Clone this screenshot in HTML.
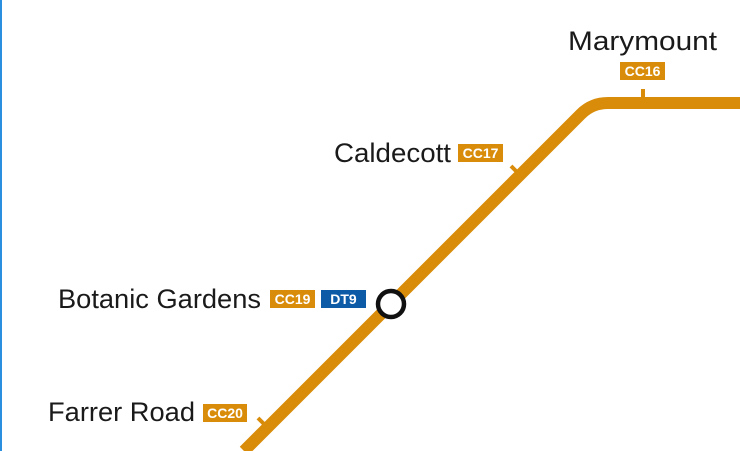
<!DOCTYPE html>
<html><head><style>html,body{margin:0;padding:0;background:#fff;}svg{display:block}</style></head>
<body>
<svg width="740" height="451" viewBox="0 0 740 451" xmlns="http://www.w3.org/2000/svg" font-family="Liberation Sans, sans-serif">
<rect x="0" y="0" width="2" height="451" fill="#2b8fe0"/>
<path d="M244 451 L581 114 Q592 103 608 103 L740 103" fill="none" stroke="#d98c0a" stroke-width="12"/>
<line x1="643" y1="89" x2="643" y2="100" stroke="#d98c0a" stroke-width="4"/>
<line x1="511" y1="166" x2="520" y2="175" stroke="#d98c0a" stroke-width="4"/>
<line x1="258" y1="418" x2="267" y2="427" stroke="#d98c0a" stroke-width="4"/>
<circle cx="391" cy="304" r="13" fill="#fff" stroke="#111" stroke-width="4.5"/>
<g fill="#1a1a1a" font-size="27">
<text x="568" y="50" textLength="149" lengthAdjust="spacingAndGlyphs">Marymount</text>
<text x="334" y="162" textLength="117" lengthAdjust="spacingAndGlyphs">Caldecott</text>
<text x="58" y="308" textLength="203" lengthAdjust="spacingAndGlyphs">Botanic Gardens</text>
<text x="48" y="421" textLength="147" lengthAdjust="spacingAndGlyphs">Farrer Road</text>
</g>
<g font-size="14" font-weight="bold" fill="#fff" text-anchor="middle">
<rect x="620" y="62" width="45" height="18" fill="#d98c0a"/><text x="642.5" y="76">CC16</text>
<rect x="458" y="144" width="45" height="18" fill="#d98c0a"/><text x="480.5" y="158">CC17</text>
<rect x="270" y="290" width="45" height="18" fill="#d98c0a"/><text x="292.5" y="304">CC19</text>
<rect x="321" y="290" width="45" height="18" fill="#0d5aa7"/><text x="343.5" y="304">DT9</text>
<rect x="203" y="404" width="44" height="18" fill="#d98c0a"/><text x="225" y="418">CC20</text>
</g>
</svg>
</body></html>
